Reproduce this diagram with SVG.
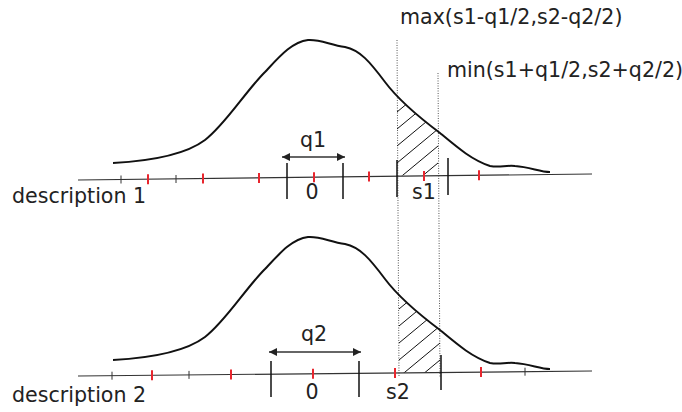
<svg xmlns="http://www.w3.org/2000/svg" width="682" height="412" viewBox="0 0 682 412">
<style>
text{font-family:"DejaVu Sans","Liberation Sans",sans-serif;font-size:20.6px;fill:#222}
.axis{stroke:#333;stroke-width:1.2;fill:none}
.tk{stroke:#333;stroke-width:1}
.rt{stroke:#e8262e;stroke-width:2}
.lt{stroke:#111;stroke-width:1.5}
.curve{fill:none;stroke:#111;stroke-width:2}
.hatch{stroke:#111;stroke-width:1}
.dot{stroke:#555;stroke-width:1;stroke-dasharray:1 1.5;fill:none}
.arr{stroke:#333;stroke-width:1.5;marker-start:url(#ah);marker-end:url(#ah)}
</style>
<defs>
<marker id="ah" markerUnits="userSpaceOnUse" markerWidth="9" markerHeight="9" refX="8" refY="4" orient="auto-start-reverse"><path d="M0,0 L8,4 L0,8 Z" fill="#222"/></marker>
<path id="cv" d="M113,163 C150,161 185,155 205,140 C225,125 245,92 265,72 C280,56 292,42 308,40 C320,39 330,45 345,47 C360,50 370,62 385,82 C400,102 420,118 440,133 C458,148 472,160 490,166 C500,168 505,165 515,166 C530,167 540,172 550,172"/>
<clipPath id="c1"><path d="M113,163 C150,161 185,155 205,140 C225,125 245,92 265,72 C280,56 292,42 308,40 C320,39 330,45 345,47 C360,50 370,62 385,82 C400,102 420,118 440,133 C458,148 472,160 490,166 L550,173.3 L113,179.6 Z"/></clipPath>
<clipPath id="c2"><path transform="translate(0,197)" d="M113,163 C150,161 185,155 205,140 C225,125 245,92 265,72 C280,56 292,42 308,40 C320,39 330,45 345,47 C360,50 370,62 385,82 C400,102 420,118 440,133 C458,148 472,160 490,166 L550,174 L113,179 Z"/></clipPath>
</defs>

<g id="guides">
<line class="dot" x1="397" y1="40" x2="399" y2="377"/>
<line class="dot" x1="438" y1="73" x2="440" y2="377"/>
</g>

<g id="description1">
<use href="#cv" class="curve"/>
<g clip-path="url(#c1)">
<line class="hatch" x1="397" y1="112" x2="438" y2="78"/>
<line class="hatch" x1="397" y1="129" x2="438" y2="95"/>
<line class="hatch" x1="397" y1="146" x2="438" y2="112"/>
<line class="hatch" x1="397" y1="163" x2="438" y2="129"/>
<line class="hatch" x1="397" y1="180" x2="438" y2="146"/>
<line class="hatch" x1="397" y1="197" x2="438" y2="163"/>
</g>
<line class="axis" x1="78" y1="180" x2="592" y2="174"/>
<line class="tk" x1="121" y1="175.5" x2="121" y2="183.5"/>
<line class="tk" x1="176" y1="175" x2="176" y2="183"/>
<line class="rt" x1="148" y1="174.2" x2="148" y2="184.2"/>
<line class="rt" x1="203" y1="173.5" x2="203" y2="183.5"/>
<line class="rt" x1="259" y1="172.9" x2="259" y2="182.9"/>
<line class="rt" x1="314" y1="172.2" x2="314" y2="182.2"/>
<line class="rt" x1="369" y1="171.6" x2="369" y2="181.6"/>
<line class="rt" x1="424" y1="171" x2="424" y2="181"/>
<line class="rt" x1="479" y1="170.3" x2="479" y2="180.3"/>
<line class="lt" x1="287" y1="163" x2="287" y2="199"/>
<line class="lt" x1="343" y1="163" x2="343" y2="199"/>
<line class="lt" x1="397" y1="160" x2="397" y2="197"/>
<line class="lt" x1="448" y1="158" x2="448" y2="195"/>
<line class="arr" x1="282" y1="157" x2="345" y2="157"/>
<text x="313" y="147" text-anchor="middle">q1</text>
<text x="312" y="199" text-anchor="middle">0</text>
<text x="424" y="199" text-anchor="middle">s1</text>
<text x="12" y="203">description 1</text>
</g>

<g id="description2">
<use href="#cv" class="curve" transform="translate(0,197)"/>
<g clip-path="url(#c2)">
<line class="hatch" x1="399" y1="309" x2="440" y2="275"/>
<line class="hatch" x1="399" y1="326" x2="440" y2="292"/>
<line class="hatch" x1="399" y1="343" x2="440" y2="309"/>
<line class="hatch" x1="399" y1="360" x2="440" y2="326"/>
<line class="hatch" x1="399" y1="377" x2="440" y2="343"/>
<line class="hatch" x1="399" y1="394" x2="440" y2="360"/>
</g>
<line class="axis" x1="78" y1="376" x2="592" y2="371"/>
<line class="tk" x1="112" y1="371.7" x2="112" y2="379.7"/>
<line class="tk" x1="189" y1="370.9" x2="189" y2="378.9"/>
<line class="tk" x1="525" y1="367.7" x2="525" y2="375.7"/>
<line class="rt" x1="152" y1="370.3" x2="152" y2="380.3"/>
<line class="rt" x1="231" y1="369.5" x2="231" y2="379.5"/>
<line class="rt" x1="313" y1="368.7" x2="313" y2="378.7"/>
<line class="rt" x1="395" y1="367.9" x2="395" y2="377.9"/>
<line class="rt" x1="481" y1="367.1" x2="481" y2="377.1"/>
<line class="lt" x1="271" y1="361" x2="271" y2="397"/>
<line class="lt" x1="359" y1="361" x2="359" y2="397"/>
<line class="lt" x1="441" y1="355" x2="441" y2="390"/>
<line class="arr" x1="269" y1="352" x2="361" y2="352"/>
<text x="314" y="341" text-anchor="middle">q2</text>
<text x="312" y="399" text-anchor="middle">0</text>
<text x="398" y="399" text-anchor="middle">s2</text>
<text x="12" y="402">description 2</text>
</g>

<g id="labels">
<text x="400" y="24">max(s1-q1/2,s2-q2/2)</text>
<text x="447" y="77">min(s1+q1/2,s2+q2/2)</text>
</g>
</svg>
